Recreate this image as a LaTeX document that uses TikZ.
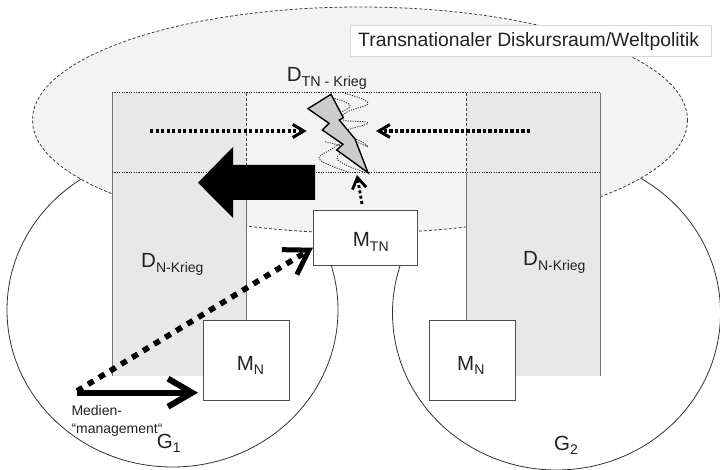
\documentclass[tikz,border=0pt]{standalone}
\usepackage{fontspec}
\setmainfont{Liberation Sans}
\usetikzlibrary{arrows.meta}
\definecolor{ellfill}{HTML}{F3F3F3}
\definecolor{colfill}{HTML}{E8E8E8}
\definecolor{txt}{HTML}{222222}
\newcommand{\msub}[1]{\raisebox{-4.5pt}{\fontsize{14}{15}\selectfont #1}}
\tikzset{
  gcircle/.style={draw=black!80,line width=0.8pt,fill=white},
  colline/.style={draw=black!55,line width=0.9pt},
  dotline/.style={draw=black!85,line width=1pt,dash pattern=on 1.2pt off 1.2pt},
  dashline/.style={draw=black!75,line width=0.8pt,dash pattern=on 3pt off 2pt},
  squig/.style={draw=black!85,line width=0.8pt,dash pattern=on 1.2pt off 1.2pt},
  mbox/.style={draw=black!70,fill=white,line width=0.9pt,inner sep=0pt},
  lab/.style={text=txt,inner sep=0pt,anchor=base west,font=\fontsize{20.5}{22}\selectfont},
  small/.style={text=txt,inner sep=0pt,anchor=base west,font=\fontsize{14}{15}\selectfont},
  fineflow/.style={line width=3.1pt,dash pattern=on 3.1pt off 2.4pt,-{Straight Barb[length=11pt,width=13pt,line width=3pt]}},
  upflow/.style={line width=2.8pt,dash pattern=on 3pt off 2.4pt,-{Straight Barb[length=11pt,width=14pt,line width=2.8pt]}},
  mgmtflow/.style={line width=5.6pt,dash pattern=on 6.5pt off 6.4pt,-{Straight Barb[length=23pt,width=29pt,line width=5pt]}},
  solidflow/.style={line width=6pt,-{Straight Barb[length=24pt,width=28pt,line width=6pt]}}
}
\begin{document}
\begin{tikzpicture}[x=1pt,y=-1pt]
\useasboundingbox (0,0) rectangle (720,470);
\fill[white] (0,0) rectangle (720,470);
% societies
\draw[gcircle] (172.5,310) ellipse [x radius=165.5,y radius=157];
\draw[gcircle] (556.5,313) ellipse [x radius=164,y radius=157];
% discourse ellipse
\draw[dashline,fill=ellfill] (360,120) ellipse [x radius=327.5,y radius=113];
% columns
\fill[colfill] (112,93) rectangle (246.5,375.7);
\fill[colfill] (466,93) rectangle (600.7,375.7);
\draw[colline] (112,93) -- (112,375.7);
\draw[colline] (246.5,173) -- (246.5,320);
\draw[colline] (466,173) -- (466,320);
\draw[colline] (600.7,93) -- (600.7,375.7);
\draw[dotline] (112,93) -- (600.7,93);
\draw[dotline] (112,173) -- (600.7,173);
\draw[dashline] (246.5,93) -- (246.5,173);
\draw[dashline] (466,93) -- (466,173);
% dotted shock waves
\draw[squig] plot[smooth,tension=0.7] coordinates {(345,93.3) (368,103) (347,112) (343,120) (368,123) (344,133) (368,147) (353,139) (330,150) (320,160) (350,172.5)};
\draw[squig] plot[smooth,tension=0.7] coordinates {(330,97) (350,105) (341,112)};
\draw[squig] plot[smooth,tension=0.7] coordinates {(325,141.7) (343,148) (338,160) (365,172.5)};
% lightning
\draw[fill=black!20,draw=black,line width=1.4pt,line join=miter]
 (331,94.3) -- (308,108.7) -- (329,123.3) -- (322.3,130) -- (343,144.3) -- (336.7,150) -- (368,172.7)
 -- (355,139) -- (339.3,120) -- (343.3,117.7) -- cycle;
% boxes
\path[mbox,draw] (313.3,210) rectangle (417.7,265.3);
\path[mbox,draw] (203.3,320.5) rectangle (289.3,400);
\path[mbox,draw] (429.3,320.5) rectangle (515.7,400);
\node[lab] (mtn) at (352.7,247) {M\msub{TN}};
\node[lab] (mnl) at (236.7,370) {M\msub{N}};
\node[lab] (mnr) at (457,370) {M\msub{N}};
% label box
\path[draw=black!15,fill=white,line width=0.8pt] (350.7,25) rectangle (711,56);
\node[text=txt,inner sep=0pt,anchor=base west,font=\fontsize{19.35}{21}\selectfont] (title) at (358,47) {Transnationaler Diskursraum/Weltpolitik};
% texts
\node[lab] (dtn) at (286.7,81.7) {D\raisebox{-5pt}{\fontsize{14.3}{16}\selectfont TN - Krieg}};
\node[lab] (dl) at (141,268) {D\msub{N-Krieg}};
\node[lab] (dr) at (523,265.7) {D\msub{N-Krieg}};
\node[small] (med1) at (71.3,415.7) {Medien-};
\node[small] (med2) at (71.3,433) {“management“};
\node[lab] (g1) at (156.7,448) {G\msub{1}};
\node[lab] (g2) at (554,450) {G\msub{2}};
% flows
\coordinate (a1) at (150,131);
\coordinate (a2) at (306.7,131);
\coordinate (b1) at (530,131);
\coordinate (b2) at (376,131);
\coordinate (c1) at (362,204);
\coordinate (c2) at (357,175);
\coordinate (d1) at (77,391);
\coordinate (d2) at (313,247.7);
\coordinate (e1) at (77,392.7);
\coordinate (e2) at (198,392.7);
\draw[fineflow] (a1) -- (a2);
\draw[fineflow] (b1) -- (b2);
\draw[upflow] (c1) -- (c2);
\draw[mgmtflow] (d1) -- (d2);
\draw[solidflow] (e1) -- (e2);
% big black arrow
\fill[black] (315,165) -- (233,165) -- (233,147) -- (198,182.7) -- (233,218) -- (233,200) -- (315,200) -- cycle;
\end{tikzpicture}
\end{document}
